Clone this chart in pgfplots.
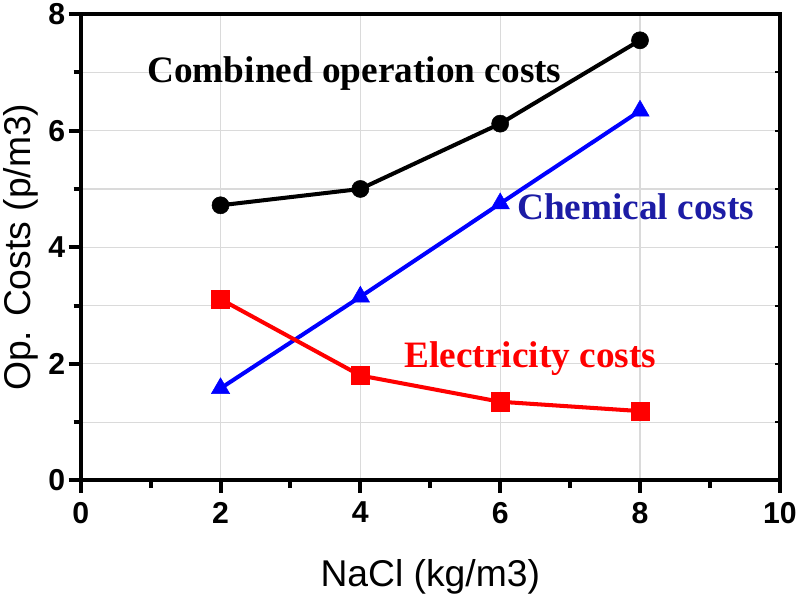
\documentclass[border=0pt]{standalone}
\usepackage{fontspec}
\setmainfont{Liberation Sans}
\newfontfamily\timesfont{Liberation Serif}
\usepackage{pgfplots}
\usepackage{pgfplotstable}
\pgfplotsset{compat=1.18}

\definecolor{gridgray}{RGB}{218,218,218}
\definecolor{chemtext}{RGB}{28,28,165}
\definecolor{elecred}{RGB}{255,0,0}
\definecolor{chemblue}{RGB}{0,0,255}

% NaCl dose vs operation costs
\pgfplotstableread{
x    comb   chem   elec
2    4.72   1.58   3.11
4    5.00   3.15   1.80
6    6.12   4.75   1.35
8    7.55   6.34   1.19
}\costs

\begin{document}
\begin{tikzpicture}
\begin{axis}[
    scale only axis,
    width=694pt, height=463pt,
    xmin=0, xmax=10, ymin=0, ymax=8,
    xtick={0,2,...,10}, ytick={0,2,...,8},
    minor x tick num=1, minor y tick num=1,
    xmajorgrids, ymajorgrids, yminorgrids,
    grid style={gridgray, line width=1.2pt},
    minor grid style={gridgray, line width=1.2pt},
    axis line style={line width=4pt},
    every tick/.style={black, line width=4pt},
    tick align=outside, tick pos=left,
    major tick length=12pt, minor tick length=7pt,
    /pgf/number format/assume math mode=true,
    ticklabel style={font=\bfseries\fontsize{30}{30}\selectfont},
    xticklabel style={yshift=-6pt},
    xlabel={NaCl (kg/m3)},
    ylabel={Op. Costs (p/m3)},
    label style={font=\fontsize{37}{37}\selectfont},
    xlabel style={at={(axis description cs:0.5,-0.227)}, anchor=base},
    ylabel style={at={(axis description cs:-0.072,0.5)}, rotate=0, anchor=base},
    clip=false,
]
\addplot[black, line width=4pt, mark=*, mark size=8.5pt,
    mark options={solid, line width=0.5pt}] table[x=x, y=comb] {\costs};
\addplot[chemblue, line width=4pt, mark=triangle*, mark size=10.5pt,
    mark options={solid, line width=0.5pt}] table[x=x, y=chem] {\costs};
\addplot[elecred, line width=4pt, mark=square*, mark size=9pt,
    mark options={solid, line width=0.5pt}] table[x=x, y=elec] {\costs};

\node[anchor=base west, inner sep=0pt, font=\timesfont\bfseries\fontsize{37}{37}\selectfont, black]
    at (axis cs:0.95,6.82) {Combined operation costs};
\node[anchor=base west, inner sep=0pt, font=\timesfont\bfseries\fontsize{37}{37}\selectfont, chemtext]
    at (axis cs:6.24,4.47) {Chemical costs};
\node[anchor=base west, inner sep=0pt, font=\timesfont\bfseries\fontsize{37}{37}\selectfont, elecred]
    at (axis cs:4.63,1.93) {Electricity costs};
\end{axis}
% right-hand inward ticks
\begin{axis}[
    scale only axis,
    width=694pt, height=463pt,
    xmin=0, xmax=10, ymin=0, ymax=8,
    axis x line=none, axis y line*=right,
    axis line style={draw=none},
    ytick={0,2,...,8}, minor y tick num=1,
    yticklabels={},
    every tick/.style={black, line width=2pt},
    tick align=inside,
    major tick length=5pt, minor tick length=5pt,
]
\end{axis}
\end{tikzpicture}
\end{document}
